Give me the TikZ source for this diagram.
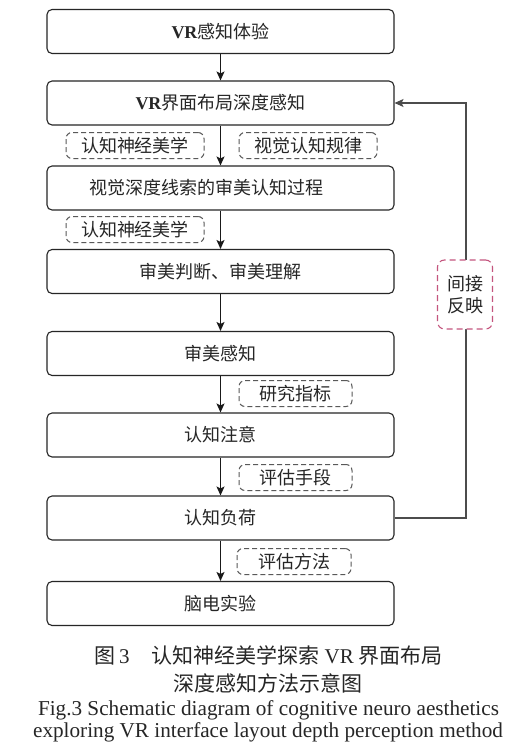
\documentclass[tikz,border=0pt]{standalone}
\usepackage{fontspec}
\setmainfont{Liberation Serif}
\newfontfamily\cjk{Noto Sans CJK SC}
\usetikzlibrary{arrows.meta}
\begin{document}
\begin{tikzpicture}[x=1pt,y=-1pt,
  mainbox/.style={draw=black!85, line width=1.1pt, rounded corners=5pt, minimum width=347pt, minimum height=44pt, inner sep=0pt, font=\cjk\fontsize{18}{20}\selectfont, text=black!85},
  tagbox/.style={draw=black!65, dash pattern=on 5pt off 3pt, line width=1pt, rounded corners=6pt, minimum height=26pt, inner sep=0pt, fill=white, font=\cjk\fontsize{18}{20}\selectfont, text=black!85},
  pinkbox/.style={draw=pinkc, dash pattern=on 6pt off 4pt, line width=1.1pt, rounded corners=7pt, minimum width=55pt, minimum height=69pt, inner sep=0pt, fill=white, align=center, font=\cjk\fontsize{18}{22}\selectfont, text=black!85},
  flow/.style={-{Stealth[length=9pt,width=8pt,inset=2pt]}, line width=1.1pt, draw=black!90},
  fback/.style={-{Stealth[length=9pt,width=8pt,inset=2pt]}, line width=1.1pt, draw=black!70},
  captext/.style={inner sep=0pt, text=black!85},
  boxtext/.style={inner sep=0pt, font=\cjk\fontsize{18}{20}\selectfont, text=black!85}
]
\definecolor{pinkc}{HTML}{C4557E}
\useasboundingbox (0,0) rectangle (525,756);
\fill[white] (0,0) rectangle (525,756);

\node[mainbox] (b1) at (220.5,31.5) {{\rmfamily\bfseries VR}感知体验};
\node[mainbox] (b2) at (220.5,103) {{\rmfamily\bfseries VR}界面布局深度感知};
\node[mainbox] (b3) at (220.5,188) {};
\node[boxtext] (b3t) at (206.5,188) {视觉深度线索的审美认知过程};
\node[mainbox] (b4) at (220.5,271.5) {审美判断、审美理解};
\node[mainbox] (b5) at (220.5,353.5) {审美感知};
\node[mainbox] (b6) at (220.5,435) {认知注意};
\node[mainbox] (b7) at (220.5,518) {认知负荷};
\node[mainbox] (b8) at (220.5,603.5) {脑电实验};

\node[tagbox, minimum width=138pt] (t1) at (135,145.5) {认知神经美学};
\node[tagbox, minimum width=138pt] (t2) at (308,145.5) {视觉认知规律};
\node[tagbox, minimum width=138pt] (t3) at (135,229.5) {认知神经美学};
\node[tagbox, minimum width=113pt] (t4) at (295.5,393.5) {研究指标};
\node[tagbox, minimum width=113pt] (t5) at (295.5,477.5) {评估手段};
\node[tagbox, minimum width=114pt] (t6) at (294,561.5) {评估方法};

\draw[flow] (b1) -- (b2);
\draw[flow] (b2) -- (b3);
\draw[flow] (b3) -- (b4);
\draw[flow] (b4) -- (b5);
\draw[flow] (b5) -- (b6);
\draw[flow] (b6) -- (b7);
\draw[flow] (b7) -- (b8);

\coordinate (fb) at (466,0);
\draw[fback] (b7.east) -- (b7.east -| fb) -- (b2.east -| fb) -- (b2.east);
\node[pinkbox] (pk) at (465,294.5) {间接\\反映};

\node[captext, font=\cjk\fontsize{21}{24}\selectfont] (c1) at (268.5,655) {图\hspace{4pt}{\rmfamily 3}\hspace{22pt}认知神经美学探索\hspace{5pt}{\rmfamily VR}\hspace{5pt}界面布局};
\node[captext, font=\cjk\fontsize{21}{24}\selectfont] (c2) at (268,683) {深度感知方法示意图};
\node[captext, font=\rmfamily\fontsize{21.2}{24}\selectfont] (c3) at (268.5,710) {Fig.3 Schematic diagram of cognitive neuro aesthetics};
\node[captext, font=\rmfamily\fontsize{21.2}{24}\selectfont] (c4) at (268,732) {exploring VR interface layout depth perception method};
\end{tikzpicture}
\end{document}
